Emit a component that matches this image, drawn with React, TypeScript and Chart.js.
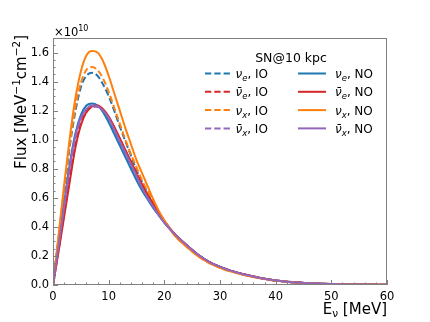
import React, { useEffect, useRef } from "react";
import { Chart, registerables } from "chart.js";
Chart.register(...registerables);

// Energies (MeV)
const energies = [0,1,2,3,4,5,6,7,8,9,10,11,12,13,14,15,16,17,18,19,20,22,24,26,28,30,32,34,36,38,40,42,44,46,48,50,52,54,56,58,60];

const tailCommon = [0.345,0.275,0.21,0.16,0.125,0.097,0.076,0.058,0.043,0.031,0.023,0.017,0.012,0.009,0.0065,0.005,0.0038,0.003,0.0023,0.0017];
const tailOrange = [0.335,0.263,0.2,0.152,0.118,0.092,0.072,0.055,0.041,0.03,0.022,0.016,0.0115,0.0085,0.006,0.0046,0.0035,0.0027,0.002,0.0015];

// Flux values (x 1e10 MeV^-1 cm^-2)
const nueIO = [0,0.32,0.64,0.95,1.19,1.36,1.44,1.46,1.44,1.38,1.30,1.20,1.09,0.99,0.89,0.79,0.71,0.63,0.56,0.49,0.435, ...tailCommon];
const nuebarIO = [0,0.24,0.49,0.73,0.96,1.11,1.19,1.225,1.23,1.205,1.155,1.085,1.005,0.925,0.845,0.765,0.69,0.62,0.555,0.495,0.44, ...tailCommon];
const nuxIO = [0,0.33,0.66,0.97,1.22,1.39,1.48,1.50,1.48,1.42,1.33,1.22,1.11,1.00,0.90,0.81,0.72,0.645,0.575,0.505,0.44, ...tailOrange];
const nuxbarIO = [0,0.265,0.535,0.80,1.01,1.14,1.205,1.23,1.225,1.195,1.14,1.065,0.985,0.905,0.825,0.745,0.67,0.60,0.535,0.48,0.43, ...tailCommon];
const nueNO = [0,0.28,0.56,0.83,1.04,1.17,1.235,1.25,1.235,1.19,1.12,1.04,0.96,0.88,0.80,0.72,0.65,0.59,0.53,0.48,0.43, ...tailCommon];
const nuebarNO = [0,0.23,0.47,0.71,0.94,1.10,1.19,1.23,1.235,1.21,1.16,1.09,1.01,0.93,0.85,0.77,0.69,0.62,0.56,0.50,0.44, ...tailCommon];
const nuxNO = [0,0.34,0.69,1.01,1.28,1.47,1.58,1.61,1.60,1.54,1.44,1.32,1.20,1.08,0.97,0.86,0.77,0.68,0.59,0.51,0.445, ...tailOrange];
const nuxbarNO = [0,0.27,0.54,0.81,1.02,1.15,1.21,1.235,1.23,1.20,1.15,1.07,0.99,0.91,0.83,0.75,0.67,0.60,0.54,0.48,0.43, ...tailCommon];

const xTicks = [0,10,20,30,40,50,60];
const yTicks = [0,0.2,0.4,0.6,0.8,1.0,1.2,1.4,1.6];

const BLUE = "#1f77b4", RED = "#d62728", ORANGE = "#ff7f0e", PURPLE = "#9467bd";
const FRAME = "#808080";
const FONT = "'DejaVu Sans', sans-serif";

type Series = { base: string; sub: string; bar: boolean; ord: string; data: number[]; color: string; dashed: boolean };
const series: Series[] = [
  { base: "ν", sub: "e", bar: false, ord: "IO", data: nueIO, color: BLUE, dashed: true },
  { base: "ν", sub: "e", bar: true, ord: "IO", data: nuebarIO, color: RED, dashed: true },
  { base: "ν", sub: "x", bar: false, ord: "IO", data: nuxIO, color: ORANGE, dashed: true },
  { base: "ν", sub: "x", bar: true, ord: "IO", data: nuxbarIO, color: PURPLE, dashed: true },
  { base: "ν", sub: "e", bar: false, ord: "NO", data: nueNO, color: BLUE, dashed: false },
  { base: "ν", sub: "e", bar: true, ord: "NO", data: nuebarNO, color: RED, dashed: false },
  { base: "ν", sub: "x", bar: false, ord: "NO", data: nuxNO, color: ORANGE, dashed: false },
  { base: "ν", sub: "x", bar: true, ord: "NO", data: nuxbarNO, color: PURPLE, dashed: false },
];

type Seg = { t: string; size: number; dy: number; italic?: boolean };

function segWidth(ctx: CanvasRenderingContext2D, segs: Seg[]) {
  let w = 0;
  for (const s of segs) {
    ctx.font = `${s.italic ? "italic " : ""}${s.size}px ${FONT}`;
    w += ctx.measureText(s.t).width;
  }
  return w;
}
function drawSegs(ctx: CanvasRenderingContext2D, segs: Seg[], x: number, y: number) {
  let cx = x;
  for (const s of segs) {
    ctx.font = `${s.italic ? "italic " : ""}${s.size}px ${FONT}`;
    ctx.fillText(s.t, cx, y + s.dy);
    cx += ctx.measureText(s.t).width;
  }
  return cx;
}

const decorPlugin = {
  id: "decor",
  afterDraw(chart: any) {
    const { ctx, chartArea: a, scales } = chart;
    const xs = scales.x, ys = scales.y;
    ctx.save();
    // frame
    ctx.strokeStyle = FRAME;
    ctx.lineWidth = 1;
    ctx.strokeRect(a.left + 0.5, a.top + 0.5, a.right - a.left - 1, a.bottom - a.top - 1);
    // x ticks
    ctx.beginPath();
    for (let v = 0; v <= 60; v += 2) {
      const px = Math.round(xs.getPixelForValue(v)) + 0.5;
      const len = v % 10 === 0 ? 5 : 2.5;
      ctx.moveTo(px, a.bottom);
      ctx.lineTo(px, a.bottom - len);
    }
    // y ticks
    for (let i = 0; i <= 34; i++) {
      const v = i * 0.05;
      const py = Math.round(ys.getPixelForValue(v)) + 0.5;
      const len = i % 4 === 0 ? 5 : 2.5;
      ctx.moveTo(a.left, py);
      ctx.lineTo(a.left + len, py);
    }
    ctx.stroke();

    ctx.fillStyle = "#000";
    ctx.textBaseline = "alphabetic";
    ctx.textAlign = "left";
    // x10^10
    drawSegs(ctx, [{ t: "×10", size: 11.5, dy: 0 }, { t: "10", size: 8, dy: -5 }], a.left + 1, 36);

    // x label
    const xl: Seg[] = [
      { t: "E", size: 15, dy: 0 },
      { t: "ν", size: 10.5, dy: 3 },
      { t: " [MeV]", size: 15, dy: 0 },
    ];
    const xw = segWidth(ctx, xl);
    drawSegs(ctx, xl, a.right - xw, 314);

    // y label
    const yl: Seg[] = [
      { t: "Flux [MeV", size: 15, dy: 0 },
      { t: "−1", size: 10.5, dy: -6 },
      { t: "cm", size: 15, dy: 0 },
      { t: "−2", size: 10.5, dy: -6 },
      { t: "]", size: 15, dy: 0 },
    ];
    const yw = segWidth(ctx, yl);
    ctx.save();
    ctx.translate(26, a.top - 3);
    ctx.rotate(-Math.PI / 2);
    drawSegs(ctx, yl, -yw, 0);
    ctx.restore();

    // legend
    ctx.font = `12.5px ${FONT}`;
    ctx.textAlign = "center";
    ctx.fillText("SN@10 kpc", 291, 62);
    ctx.textAlign = "left";
    const rows = [73.5, 91.8, 110.1, 128.4];
    series.forEach((s, i) => {
      const col = s.ord === "IO" ? 0 : 1;
      const row = i % 4;
      const y = rows[row];
      const hx0 = col === 0 ? 205 : 298;
      const hx1 = col === 0 ? 232 : 326;
      ctx.strokeStyle = s.color;
      ctx.lineWidth = 2;
      ctx.setLineDash(s.dashed ? [6.3, 3] : []);
      ctx.beginPath();
      ctx.moveTo(hx0, y);
      ctx.lineTo(hx1, y);
      ctx.stroke();
      ctx.setLineDash([]);
      const tx = col === 0 ? 235.5 : 335;
      const segs: Seg[] = [
        { t: s.bar ? "ν̄" : "ν", size: 12, dy: 0, italic: true },
        { t: s.sub, size: 8.5, dy: 3, italic: true },
        { t: ", " + s.ord, size: 12, dy: 0 },
      ];
      drawSegs(ctx, segs, tx, y + 4.5);
    });
    ctx.restore();
  },
};

export default function App() {
  const ref = useRef<HTMLCanvasElement | null>(null);
  useEffect(() => {
    document.body.style.margin = "0";
    const canvas = ref.current!;
    const chart = new Chart(canvas, {
      type: "line",
      data: {
        datasets: series.map((s, i) => ({
          label: `${s.bar ? "anti-" : ""}nu_${s.sub}, ${s.ord}`,
          data: energies.map((e, k) => ({ x: e, y: s.data[k] })),
          borderColor: s.color,
          backgroundColor: s.color,
          borderWidth: 2,
          borderDash: s.dashed ? [6.3, 3] : [],
          pointRadius: 0,
          fill: false,
          cubicInterpolationMode: "monotone" as const,
          order: 10 - i,
        })),
      },
      options: {
        responsive: false,
        animation: false,
        devicePixelRatio: 1,
        layout: { padding: { left: 0, top: 38, right: 43, bottom: 0 } },
        plugins: { legend: { display: false }, tooltip: { enabled: false }, title: { display: false } },
        scales: {
          x: {
            type: "linear",
            min: 0,
            max: 60,
            afterFit: (sc: any) => { sc.height = 37; },
            afterBuildTicks: (sc: any) => { sc.ticks = xTicks.map((v) => ({ value: v })); },
            grid: { display: false, drawTicks: false },
            border: { display: false },
            ticks: { padding: 5, color: "#000", font: { family: "DejaVu Sans", size: 11.5 }, maxRotation: 0, callback: (v: any) => String(v) },
          },
          y: {
            type: "linear",
            min: 0,
            max: 1.7,
            afterFit: (sc: any) => { sc.width = 53; },
            afterBuildTicks: (sc: any) => { sc.ticks = yTicks.map((v) => ({ value: v })); },
            grid: { display: false, drawTicks: false },
            border: { display: false },
            ticks: { padding: 4, color: "#000", font: { family: "DejaVu Sans", size: 11.5 }, callback: (v: any) => Number(v).toFixed(1) },
          },
        },
      },
      plugins: [decorPlugin],
    });
    return () => chart.destroy();
  }, []);
  return (
    <div style={{ width: 430, height: 322 }}>
      <canvas ref={ref} width={430} height={322} style={{ width: 430, height: 322, display: "block" }} />
    </div>
  );
}
